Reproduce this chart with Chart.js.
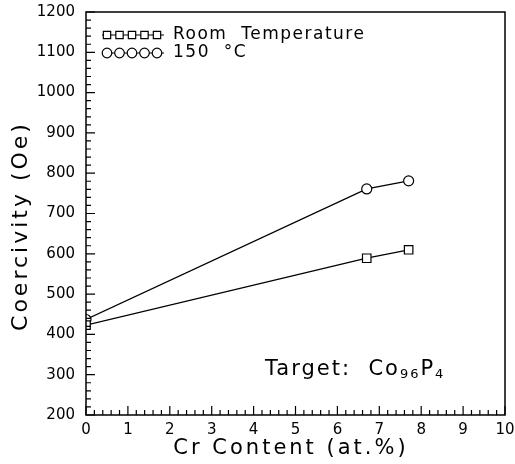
<!DOCTYPE html>
<html lang="en">
<head>
<meta charset="UTF-8">
<title>Coercivity vs Cr Content</title>
<style>
    html, body {
        margin: 0;
        padding: 0;
        background: #fff;
    }
    #wrap {
        width: 515px;
        height: 464px;
    }
</style>
</head>
<body>
<div id="wrap">
    <canvas id="chart" width="515" height="464"></canvas>
</div>
<script src="https://cdn.jsdelivr.net/npm/chart.js"></script>
<script>
    // values
    const crContent = [0, 6.7, 7.7];
    const roomTemp = [423, 589, 610];
    const hot150 = [437, 761, 781];
    const seriesNames = ['Room  Temperature', '150  \u00b0C'];
    const xTitle = 'Cr Content (at.%)';
    const yTitle = 'Coercivity (Oe)';

    const FONT = "'DejaVu Sans', Verdana, sans-serif";

    function toPoints(xs, ys) {
        return xs.map((x, i) => ({ x: x, y: ys[i] }));
    }

    // inward ticks, box, titles and the notes on the plot
    const decorations = {
        id: 'decorations',
        afterDraw(chart) {
            const ctx = chart.ctx;
            const a = chart.chartArea;
            const xs = chart.scales.x;
            const ys = chart.scales.y;
            ctx.save();
            ctx.strokeStyle = '#000';
            ctx.lineWidth = 1.5;
            ctx.strokeRect(a.left, a.top, a.right - a.left, a.bottom - a.top);

            ctx.lineWidth = 1.2;
            ctx.beginPath();
            for (let v = 0; v <= 50; v++) {
                const px = xs.getPixelForValue(v / 5);
                const len = v % 5 === 0 ? 9 : 5;
                ctx.moveTo(px, a.bottom);
                ctx.lineTo(px, a.bottom - len);
            }
            for (let v = 200; v <= 1200; v += 20) {
                const py = ys.getPixelForValue(v);
                const len = v % 100 === 0 ? 9 : 5;
                ctx.moveTo(a.left, py);
                ctx.lineTo(a.left + len, py);
            }
            ctx.stroke();

            // legend
            const styles = ['rect', 'circle'];
            const radii = [5.2, 4.8];
            const ly = [a.top + 23, a.top + 41];
            ctx.letterSpacing = '1.5px';
            ctx.font = '17px ' + FONT;
            ctx.textBaseline = 'middle';
            ctx.textAlign = 'left';
            for (let i = 0; i < 2; i++) {
                ctx.lineWidth = 1.2;
                ctx.beginPath();
                ctx.moveTo(a.left + 16, ly[i]);
                ctx.lineTo(a.left + 78, ly[i]);
                ctx.stroke();
                for (let k = 0; k < 5; k++) {
                    ctx.fillStyle = '#fff';
                    Chart.helpers.drawPoint(ctx, {
                        pointStyle: styles[i], radius: radii[i], borderWidth: 1.2
                    }, a.left + 21 + k * 12.5, ly[i]);
                }
                ctx.fillStyle = '#000';
                ctx.fillText(seriesNames[i], a.left + 87, ly[i]);
            }

            // target note
            ctx.textBaseline = 'alphabetic';
            ctx.fillStyle = '#000';
            const bx = 265, by = 375;
            ctx.letterSpacing = '2px';
            ctx.font = '21px ' + FONT;
            let t = 'Target:  Co';
            ctx.fillText(t, bx, by);
            let x = bx + ctx.measureText(t).width;
            ctx.font = '13px ' + FONT;
            ctx.fillText('96', x, by + 3);
            x += ctx.measureText('96').width;
            ctx.font = '21px ' + FONT;
            ctx.fillText('P', x, by);
            x += ctx.measureText('P').width;
            ctx.font = '13px ' + FONT;
            ctx.fillText('4', x, by + 3);

            // axis titles
            ctx.letterSpacing = '3px';
            ctx.font = '21px ' + FONT;
            ctx.textAlign = 'center';
            ctx.textBaseline = 'middle';
            ctx.fillText(xTitle, 291, 449);
            ctx.translate(21, 226);
            ctx.rotate(-Math.PI / 2);
            ctx.font = '22px ' + FONT;
            ctx.fillText(yTitle, 0, 0);
            ctx.restore();
        }
    };

    const ctx = document.getElementById('chart').getContext('2d');
    const chart = new Chart(ctx, {
        type: 'line',
        data: {
            datasets: [{
                label: seriesNames[0],
                data: toPoints(crContent, roomTemp),
                borderColor: '#000',
                borderWidth: 1.3,
                pointStyle: 'rect',
                pointRadius: 6,
                pointBackgroundColor: '#fff',
                pointBorderColor: '#000',
                pointBorderWidth: 1.2,
                fill: false
            }, {
                label: seriesNames[1],
                data: toPoints(crContent, hot150),
                borderColor: '#000',
                borderWidth: 1.3,
                pointStyle: 'circle',
                pointRadius: 5,
                pointBackgroundColor: '#fff',
                pointBorderColor: '#000',
                pointBorderWidth: 1.2,
                fill: false
            }]
        },
        options: {
            responsive: false,
            animation: false,
            layout: { autoPadding: false, padding: { top: 12, right: 10, left: 0, bottom: 0 } },
            plugins: {
                legend: { display: false },
                tooltip: { enabled: false }
            },
            scales: {
                x: {
                    type: 'linear',
                    min: 0,
                    max: 10,
                    grid: { display: false, drawTicks: false },
                    border: { display: false },
                    ticks: {
                        stepSize: 1,
                        color: '#000',
                        padding: 6,
                        font: { family: FONT, size: 15 },
                        callback: (v) => String(v)
                    },
                    afterFit(scale) {
                        scale.height = 49;
                        scale.paddingLeft = 0;
                        scale.paddingRight = 0;
                    }
                },
                y: {
                    min: 200,
                    max: 1200,
                    grid: { display: false, drawTicks: false },
                    border: { display: false },
                    ticks: {
                        stepSize: 100,
                        color: '#000',
                        padding: 11,
                        font: { family: FONT, size: 15 },
                        callback: (v) => String(v)
                    },
                    afterFit(scale) {
                        scale.width = 86;
                        scale.paddingTop = 0;
                        scale.paddingBottom = 0;
                    }
                }
            }
        },
        plugins: [decorations]
    });
</script>
</body>
</html>
